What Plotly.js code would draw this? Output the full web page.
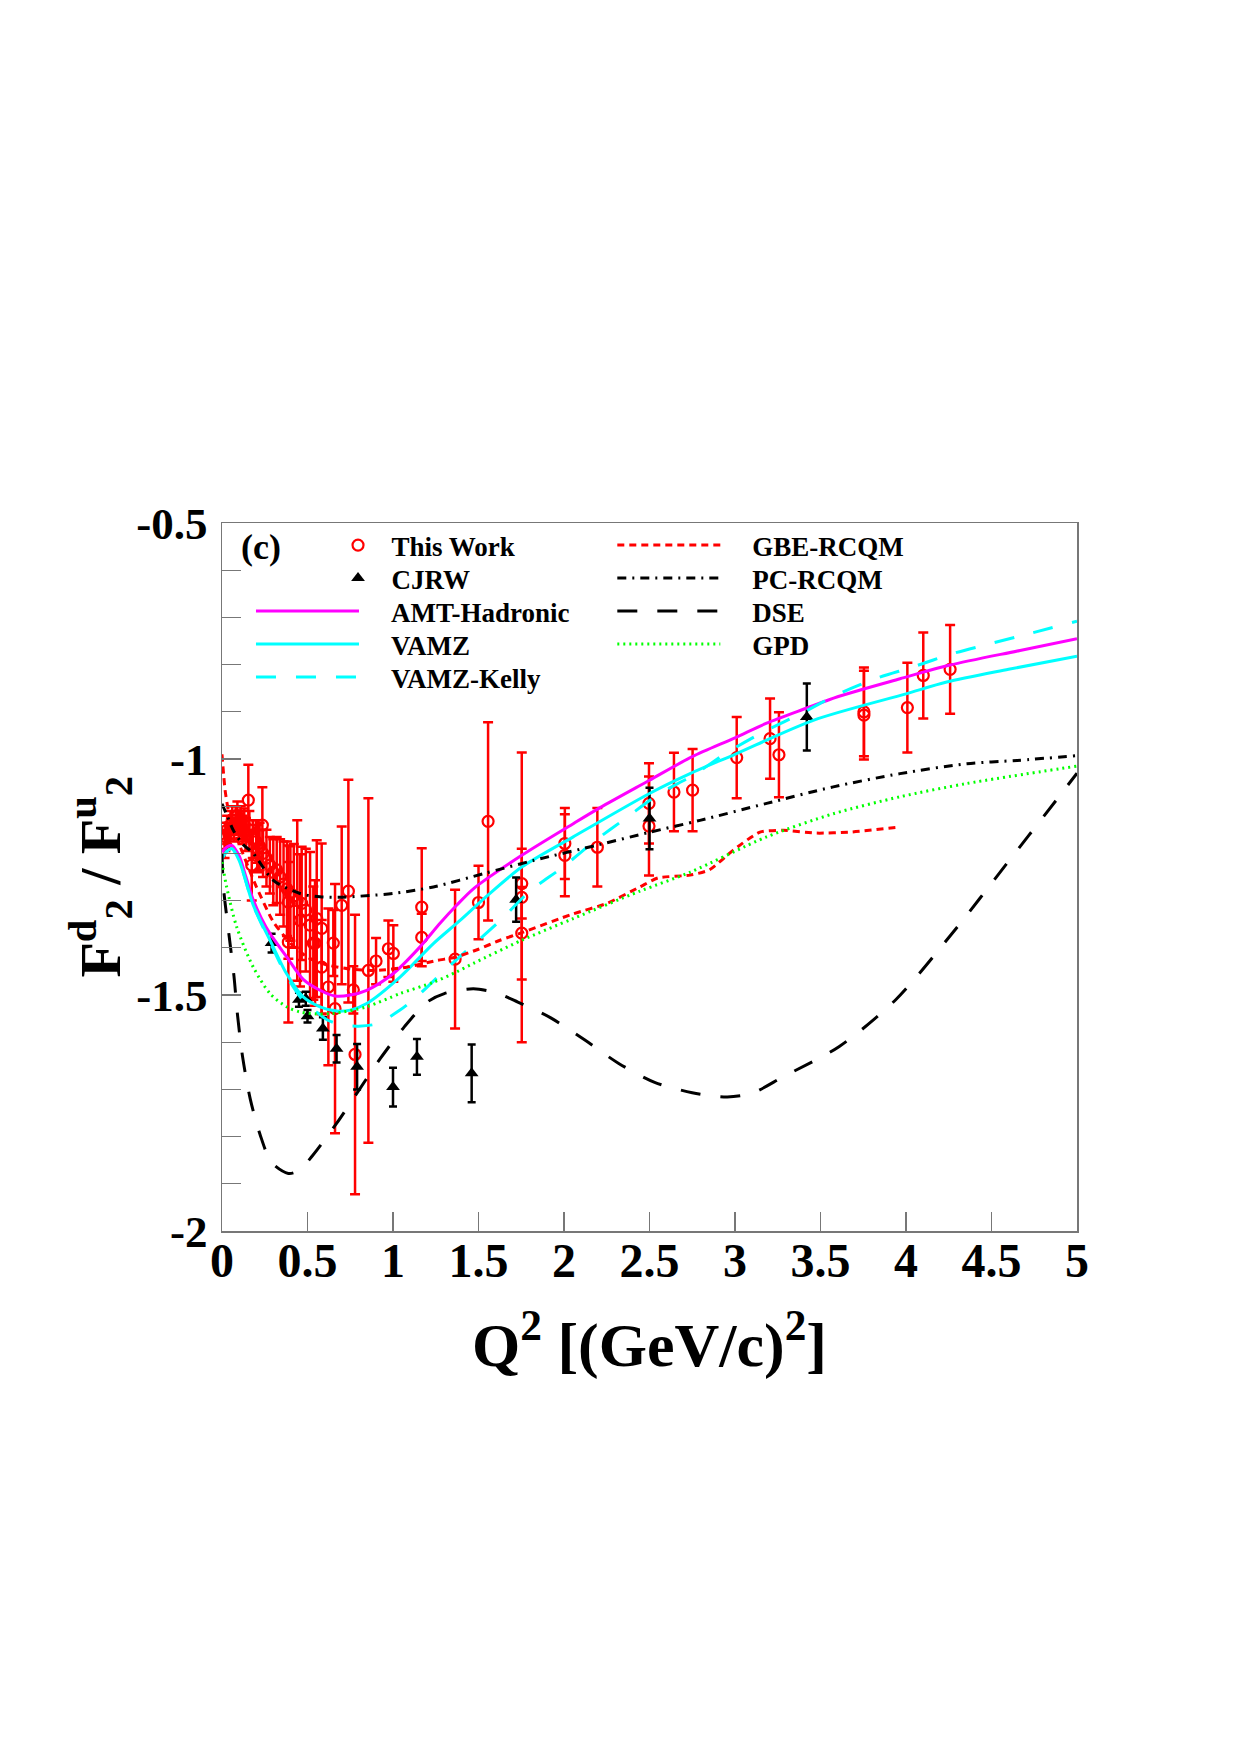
<!DOCTYPE html>
<html>
<head>
<meta charset="utf-8">
<script src="https://cdn.plot.ly/plotly-3.0.1.min.js"></script>
<style>html,body{margin:0;padding:0;background:#fff;}</style>
</head>
<body>
<div id="chart" style="width:1240px;height:1755px;"></div>
<script>
// ---------- Data: This Work ----------
const twQ2 = [0.015,0.02,0.03,0.04,0.05,0.06,0.07,0.08,0.09,0.10,0.11,0.12,0.13,0.14,0.154,0.16,0.174,0.18,0.20,0.21,0.22,0.236,0.24,0.26,0.28,0.30,0.32,0.34,0.36,0.38,0.388,0.388,0.40,0.42,0.44,0.456,0.466,0.49,0.515,0.534,0.544,0.554,0.583,0.583,0.622,0.651,0.661,0.700,0.739,0.768,0.778,0.856,0.901,0.973,1.002,1.168,1.168,1.363,1.50,1.556,1.753,1.753,1.753,2.005,2.005,2.195,2.497,2.497,2.643,2.752,3.010,3.205,3.257,3.754,3.754,4.008,4.101,4.258];
const twRatio = [-1.18,-1.165,-1.15,-1.16,-1.14,-1.13,-1.15,-1.13,-1.12,-1.14,-1.13,-1.15,-1.14,-1.16,-1.087,-1.15,-1.225,-1.17,-1.175,-1.19,-1.185,-1.14,-1.20,-1.21,-1.225,-1.24,-1.235,-1.25,-1.265,-1.275,-1.303,-1.388,-1.285,-1.29,-1.30,-1.342,-1.306,-1.32,-1.352,-1.39,-1.39,-1.338,-1.359,-1.441,-1.483,-1.39,-1.529,-1.31,-1.28,-1.489,-1.626,-1.448,-1.428,-1.402,-1.412,-1.314,-1.378,-1.424,-1.304,-1.132,-1.264,-1.293,-1.369,-1.179,-1.204,-1.187,-1.094,-1.142,-1.07,-1.066,-0.997,-0.957,-0.991,-0.90,-0.907,-0.891,-0.823,-0.81];
const twErr = [0.03,0.03,0.03,0.025,0.03,0.03,0.025,0.03,0.03,0.03,0.03,0.03,0.035,0.035,0.075,0.04,0.075,0.04,0.045,0.05,0.05,0.08,0.05,0.06,0.06,0.07,0.07,0.08,0.09,0.10,0.12,0.17,0.10,0.11,0.17,0.14,0.12,0.13,0.155,0.12,0.133,0.166,0.18,0.10,0.166,0.07,0.264,0.167,0.236,0.05,0.296,0.365,0.049,0.06,0.06,0.125,0.05,0.147,0.078,0.21,0.074,0.307,0.098,0.075,0.087,0.083,0.085,0.105,0.083,0.087,0.086,0.085,0.09,0.094,0.094,0.095,0.091,0.094];

// ---------- Data: CJRW ----------
const cjQ2 = [0.29,0.45,0.49,0.50,0.59,0.67,0.79,1.00,1.14,1.46,1.72,2.50,3.42];
const cjRatio = [-1.39,-1.51,-1.508,-1.545,-1.571,-1.614,-1.652,-1.695,-1.631,-1.666,-1.298,-1.126,-0.911];
const cjErr = [0.02,0.015,0.015,0.013,0.024,0.029,0.048,0.041,0.038,0.061,0.047,0.065,0.071];

// ---------- Curves ----------
const amtQ2 = [0,0.03,0.057,0.1,0.14,0.183,0.23,0.281,0.378,0.475,0.573,0.66,0.75,0.846,1.0,1.158,1.275,1.372,1.47,1.753,2.054,2.211,2.5,2.75,3.0,3.185,3.42,3.6,3.965,4.257,4.667,5.0];
const amtRatio = [-1.197,-1.186,-1.183,-1.205,-1.25,-1.299,-1.337,-1.37,-1.419,-1.467,-1.49,-1.502,-1.5,-1.49,-1.455,-1.398,-1.348,-1.31,-1.275,-1.204,-1.137,-1.103,-1.045,-0.995,-0.955,-0.924,-0.892,-0.868,-0.83,-0.801,-0.77,-0.745];

const vamzQ2 = [0,0.03,0.057,0.1,0.183,0.281,0.378,0.475,0.573,0.671,0.75,0.846,1.041,1.236,1.392,1.55,1.753,2.054,2.5,2.737,3.0,3.458,4.0,4.238,4.6,5.0];
const vamzRatio = [-1.21,-1.195,-1.19,-1.215,-1.31,-1.384,-1.455,-1.504,-1.525,-1.534,-1.532,-1.518,-1.462,-1.391,-1.342,-1.29,-1.229,-1.165,-1.073,-1.031,-0.99,-0.918,-0.862,-0.837,-0.81,-0.782];

const kellyQ2 = [0,0.03,0.057,0.1,0.183,0.281,0.378,0.475,0.573,0.622,0.709,0.8,0.904,1.041,1.138,1.314,1.45,1.625,1.8,1.99,2.175,2.367,2.552,2.752,2.96,3.175,3.38,3.6,3.82,4.04,4.27,4.5,4.725,5.0];
const kellyRatio = [-1.21,-1.195,-1.19,-1.215,-1.31,-1.388,-1.46,-1.512,-1.542,-1.554,-1.564,-1.566,-1.561,-1.532,-1.504,-1.444,-1.40,-1.343,-1.28,-1.23,-1.175,-1.124,-1.075,-1.035,-0.985,-0.941,-0.905,-0.863,-0.83,-0.805,-0.777,-0.755,-0.734,-0.708];

const gbeQ2 = [0,0.018,0.037,0.06,0.1,0.2,0.3,0.4,0.5,0.6,0.75,0.904,1.08,1.255,1.363,1.5,1.626,1.753,2.054,2.25,2.444,2.55,2.737,2.85,2.99,3.146,3.282,3.477,3.67,3.965];
const gbeRatio = [-0.99,-1.066,-1.109,-1.14,-1.18,-1.27,-1.345,-1.39,-1.42,-1.435,-1.445,-1.448,-1.441,-1.427,-1.42,-1.403,-1.384,-1.368,-1.328,-1.306,-1.271,-1.252,-1.246,-1.235,-1.193,-1.155,-1.151,-1.157,-1.155,-1.144];

const pcQ2 = [0,0.03,0.066,0.12,0.183,0.3,0.456,0.573,0.7,0.865,1.0,1.236,1.528,1.821,2.2,2.503,2.795,3.185,3.575,3.965,4.355,4.65,5.0];
const pcRatio = [-1.095,-1.12,-1.151,-1.18,-1.2,-1.257,-1.285,-1.292,-1.293,-1.289,-1.285,-1.271,-1.243,-1.215,-1.182,-1.155,-1.13,-1.094,-1.059,-1.031,-1.01,-1.003,-0.993];

const dseQ2 = [0,0.008,0.04,0.07,0.09,0.12,0.165,0.222,0.29,0.388,0.45,0.53,0.67,0.8,0.925,1.065,1.2,1.3,1.47,1.6,1.73,1.92,2.12,2.32,2.53,2.75,2.955,3.1,3.283,3.61,3.94,4.28,4.58,4.875,5.0];
const dseRatio = [-1.2,-1.27,-1.37,-1.46,-1.54,-1.63,-1.72,-1.795,-1.855,-1.878,-1.872,-1.84,-1.772,-1.702,-1.635,-1.568,-1.515,-1.497,-1.487,-1.495,-1.515,-1.548,-1.595,-1.645,-1.685,-1.707,-1.716,-1.708,-1.673,-1.609,-1.51,-1.365,-1.226,-1.089,-1.03];

const gpdQ2 = [0,0.027,0.086,0.183,0.281,0.378,0.456,0.55,0.651,0.846,1.041,1.236,1.372,1.47,1.753,2.054,2.444,2.737,3.185,3.575,3.965,4.355,5.0];
const gpdRatio = [-1.218,-1.271,-1.356,-1.441,-1.497,-1.525,-1.536,-1.54,-1.539,-1.525,-1.497,-1.473,-1.451,-1.433,-1.384,-1.338,-1.28,-1.24,-1.165,-1.116,-1.08,-1.052,-1.015];

// ---------- Tick labels ----------
const xTickVals = [0,0.5,1,1.5,2,2.5,3,3.5,4,4.5,5];
const xTickText = ['0','0.5','1','1.5','2','2.5','3','3.5','4','4.5','5'];
const yTickVals = [-2,-1.5,-1,-0.5];
const yTickText = ['-2','-1.5','-1','-0.5'];

// ---------- Styling ----------
const FONT = 'Liberation Serif, Times New Roman, serif';
const PAD = '\u00a0\u00a0\u00a0\u00a0';
const PADM = '\u00a0\u00a0';
const AX = '#777777';

const traces = [
  {x: twQ2, y: twRatio, name: PADM + 'This Work', type: 'scatter', mode: 'markers', legend: 'legend',
   marker: {symbol: 'circle-open', size: 11, color: '#ff0000', line: {width: 2.2, color: '#ff0000'}},
   error_y: {type: 'data', array: twErr, visible: true, color: '#ff0000', thickness: 2.5, width: 5}},
  {x: cjQ2, y: cjRatio, name: PADM + 'CJRW', type: 'scatter', mode: 'markers', legend: 'legend2',
   marker: {symbol: 'triangle-up', size: 12, color: '#000000'},
   error_y: {type: 'data', array: cjErr, visible: true, color: '#000000', thickness: 2.5, width: 4}},
  {x: amtQ2, y: amtRatio, name: PAD + 'AMT-Hadronic', type: 'scatter', mode: 'lines', legend: 'legend3',
   line: {color: '#ff00ff', width: 3, shape: 'spline', smoothing: 0.8}},
  {x: vamzQ2, y: vamzRatio, name: PAD + 'VAMZ', type: 'scatter', mode: 'lines', legend: 'legend4',
   line: {color: '#00ffff', width: 3, shape: 'spline', smoothing: 0.8}},
  {x: kellyQ2, y: kellyRatio, name: PAD + 'VAMZ-Kelly', type: 'scatter', mode: 'lines', legend: 'legend5',
   line: {color: '#00ffff', width: 3, dash: '20px,20px', shape: 'spline', smoothing: 0.8}},
  {x: gbeQ2, y: gbeRatio, name: PAD + 'GBE-RCQM', type: 'scatter', mode: 'lines', legend: 'legend6',
   line: {color: '#ff0000', width: 3, dash: '7px,5px', shape: 'spline', smoothing: 0.6}},
  {x: pcQ2, y: pcRatio, name: PAD + 'PC-RCQM', type: 'scatter', mode: 'lines', legend: 'legend7',
   line: {color: '#000000', width: 3, dash: '9px,6px,2px,6px', shape: 'spline', smoothing: 0.8}},
  {x: dseQ2, y: dseRatio, name: PAD + 'DSE', type: 'scatter', mode: 'lines', legend: 'legend8',
   line: {color: '#000000', width: 3, dash: '20px,20px', shape: 'spline', smoothing: 0.8}},
  {x: gpdQ2, y: gpdRatio, name: PAD + 'GPD', type: 'scatter', mode: 'lines', legend: 'legend9',
   line: {color: '#00ff00', width: 3, dash: '2px,4px', shape: 'spline', smoothing: 0.8}}
];

function leg(x, y, w) {
  return {
    x: x, y: y, xanchor: 'left', yanchor: 'top', bgcolor: 'rgba(0,0,0,0)', borderwidth: 0,
    itemwidth: w, tracegroupgap: 0,
    font: {family: FONT, size: 27, color: '#000', weight: 'bold'}
  };
}
const LXM = 0.1357, LX1 = 0.0339, LX2 = 0.4565;
const rowY = [1.0028, 0.9562, 0.9096, 0.8630, 0.8164];

const layout = {
  width: 1240, height: 1755,
  margin: {l: 222, r: 163, t: 523, b: 524, pad: 0},
  paper_bgcolor: '#ffffff', plot_bgcolor: '#ffffff',
  showlegend: true,
  legend: leg(LXM, rowY[0], 30),
  legend2: leg(LXM, rowY[1], 30),
  legend3: leg(LX1, rowY[2], 103),
  legend4: leg(LX1, rowY[3], 103),
  legend5: leg(LX1, rowY[4], 103),
  legend6: leg(LX2, rowY[0], 103),
  legend7: leg(LX2, rowY[1], 103),
  legend8: leg(LX2, rowY[2], 103),
  legend9: leg(LX2, rowY[3], 103),
  xaxis: {
    range: [0, 5], tickmode: 'array', tickvals: xTickVals, ticktext: xTickText,
    ticks: 'inside', ticklen: 19, tickwidth: 1.2, tickcolor: AX,
    showline: true, linecolor: AX, linewidth: 1.5, mirror: true,
    showgrid: false, zeroline: false, ticklabelstandoff: -13,
    tickfont: {family: FONT, size: 48, color: '#000', weight: 'bold'}
  },
  yaxis: {
    range: [-2, -0.5], tickmode: 'array', tickvals: yTickVals, ticktext: yTickText,
    ticks: 'inside', ticklen: 19, tickwidth: 1.2, tickcolor: AX,
    minor: {tickmode: 'linear', tick0: -2, dtick: 0.1, ticks: 'inside', ticklen: 19, tickwidth: 1.2, tickcolor: AX, showgrid: false},
    showline: true, linecolor: AX, linewidth: 1.5, mirror: true,
    showgrid: false, zeroline: false, ticklabelstandoff: 4,
    tickfont: {family: FONT, size: 45, color: '#000', weight: 'bold'}
  },
  annotations: [
    {text: '<b>(c)</b>', xref: 'paper', yref: 'paper', x: 0.046, y: 0.966, xanchor: 'center', yanchor: 'middle',
     showarrow: false, font: {family: FONT, size: 36, color: '#000'}},
    {text: '<b>Q<sup>2</sup> [(GeV/c)<sup>2</sup>]</b>', xref: 'paper', yref: 'paper', x: 0.5, y: -0.154,
     xanchor: 'center', yanchor: 'middle', showarrow: false, font: {family: FONT, size: 62, color: '#000'}},
    {text: '<b>F<sup>d</sup><sub>2</sub> / F<sup>u</sup><sub>2</sub></b>', xref: 'paper', yref: 'paper', x: -0.142, y: 0.5,
     xanchor: 'center', yanchor: 'middle', textangle: -90, showarrow: false, font: {family: FONT, size: 58, color: '#000'}}
  ]
};

Plotly.newPlot('chart', traces, layout, {displayModeBar: false, staticPlot: true});
</script>
</body>
</html>
